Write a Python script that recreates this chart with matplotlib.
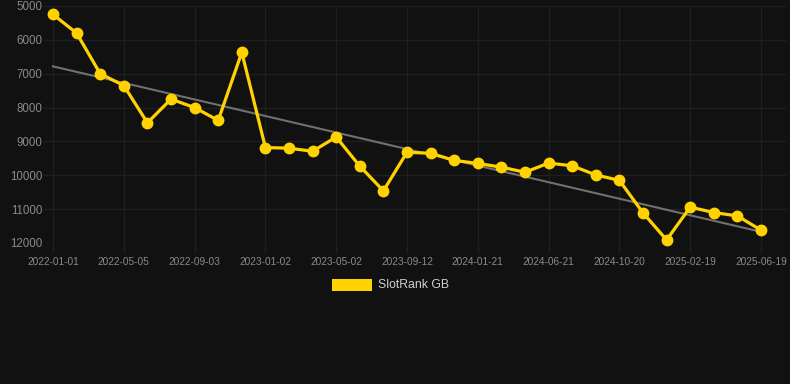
import matplotlib
matplotlib.use("Agg")
import matplotlib.pyplot as plt
from matplotlib.patches import Rectangle
import numpy as np

tick_labels = ["2022-01-01", "2022-05-05", "2022-09-03", "2023-01-02", "2023-05-02",
               "2023-09-12", "2024-01-21", "2024-06-21", "2024-10-20", "2025-02-19",
               "2025-06-19"]
ranks = [5250, 5800, 7000, 7350, 8450, 7750, 8000, 8380, 6370, 9180, 9200,
         9290, 8870, 9730, 10460, 9320, 9350, 9560, 9650, 9760, 9910,
         9640, 9720, 9990, 10150, 11110, 11910, 10940, 11100, 11200, 11620]
series_name = "SlotRank GB"
y_ticks = [5000, 6000, 7000, 8000, 9000, 10000, 11000, 12000]

BG = "#111111"
GRID = "#1f1f1f"
YELLOW = "#FFD200"
TICKC = "#8a8a8a"

plt.rcParams['font.family'] = ['Liberation Sans', 'DejaVu Sans']

fig = plt.figure(figsize=(7.9, 3.84), dpi=100, facecolor=BG)
W, H = 790, 384
left, right, top, bottom = 44, 786, 6, 243
ax = fig.add_axes([left / W, 1 - bottom / H, (right - left) / W, (bottom - top) / H])
ax.set_facecolor(BG)

x = np.arange(len(ranks))
# trend line (linear regression)
coef = np.polyfit(x, ranks, 1)
ax.plot([x[0], x[-1]], np.polyval(coef, [x[0], x[-1]]), color="#707070", lw=1.5, zorder=2)

ax.plot(x, ranks, color=YELLOW, lw=2.3, marker="o", ms=7.5, zorder=3, clip_on=False)

step = 23.6
ax.set_xlim((left - 53) / step, (right - 53) / step)
ax.set_ylim(12000, 5000)
ax.set_yticks(y_ticks)
ax.set_yticklabels([str(v) for v in y_ticks])
tick_pos = np.arange(0, len(ranks), 3)
ax.set_xticks(tick_pos)
ax.set_xticklabels(tick_labels)

ax.grid(True, color=GRID, lw=1)
ax.set_axisbelow(True)
for s in ax.spines.values():
    s.set_visible(False)
ax.tick_params(axis="x", colors=GRID, length=7, width=1, labelcolor=TICKC, labelsize=7.3, pad=3)
ax.tick_params(axis="y", length=0, labelcolor=TICKC, labelsize=8.3, pad=1)

# legend
fig.patches.append(Rectangle((332 / W, 1 - 291 / H), 40 / W, 12 / H, transform=fig.transFigure,
                             facecolor=YELLOW, edgecolor="none"))
fig.text(378 / W, 1 - 285 / H, series_name, color="#d0d0d0", fontsize=8.8, va="center", ha="left")

fig.savefig("out.png", dpi=100, facecolor=BG)
